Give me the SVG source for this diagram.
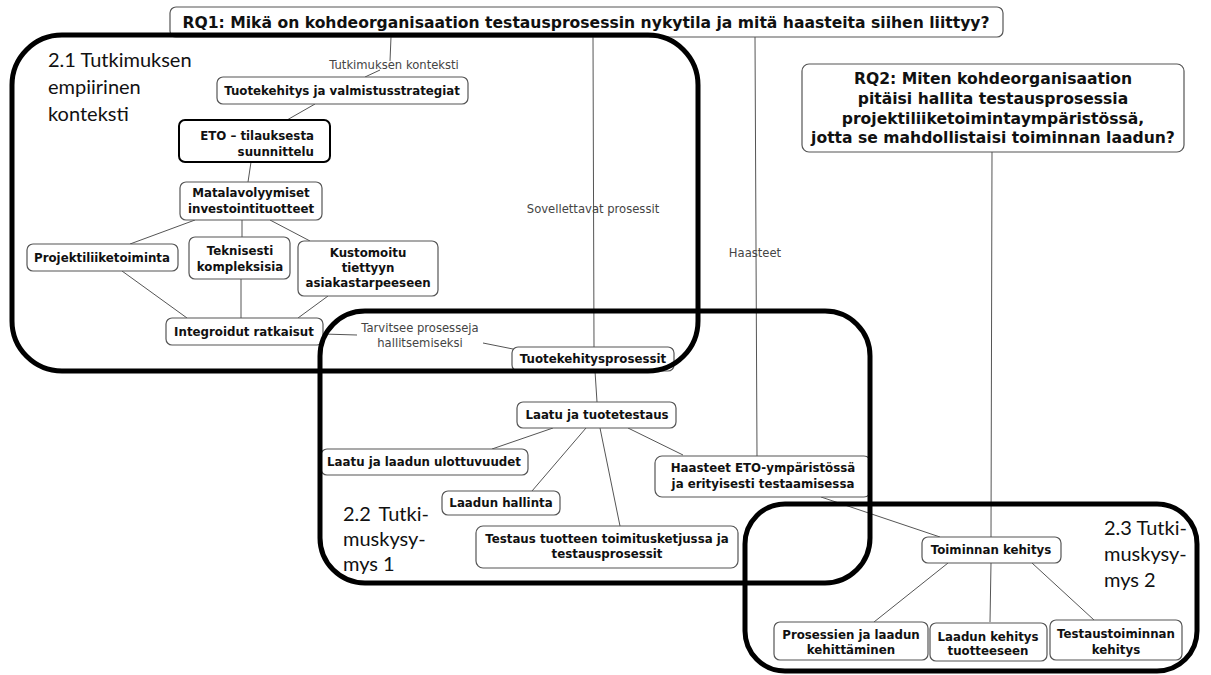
<svg xmlns="http://www.w3.org/2000/svg" width="1211" height="675" viewBox="0 0 1211 675">
  <style>
    .node rect { fill: #ffffff; stroke: #555555; stroke-width: 1.2; }
    .node.strong rect { stroke: #000000; stroke-width: 2; }
    .node text { font-family: "DejaVu Sans", Verdana, sans-serif; font-weight: bold; font-size: 11.8px; fill: #111111; text-anchor: middle; }
    .rq text { font-size: 15.6px; }
    .conn line { stroke: #555555; stroke-width: 1; fill: none; }
    .lbl { font-family: "DejaVu Sans", Verdana, sans-serif; font-size: 11.6px; fill: #444444; text-anchor: middle; }
    .region rect { fill: none; stroke: #000000; stroke-width: 5; }
    .region text { font-family: Lato, "Open Sans", sans-serif; font-size: 20px; fill: #111111; }
  </style>

  <rect x="0" y="0" width="1211" height="675" fill="#ffffff"/>

  <!-- connectors -->
  <g id="connectors" class="conn">
    <!-- RQ1 -> Tuotekehitys ja valmistusstrategiat (via "Tutkimuksen konteksti") -->
    <line x1="391" y1="37" x2="390" y2="61"/>
    <line x1="380" y1="70" x2="365" y2="77"/>
    <!-- RQ1 -> Tuotekehitysprosessit (via "Sovellettavat prosessit") -->
    <line x1="593" y1="37" x2="594" y2="347"/>
    <!-- RQ1 -> Haasteet ETO (via "Haasteet") -->
    <line x1="755" y1="37" x2="757" y2="457"/>
    <!-- RQ2 -> Toiminnan kehitys -->
    <line x1="992" y1="152" x2="991" y2="537"/>

    <line x1="315" y1="104" x2="287" y2="120"/>
    <line x1="251" y1="162" x2="248" y2="182"/>
    <line x1="195" y1="220" x2="130" y2="244"/>
    <line x1="242" y1="220" x2="242" y2="237"/>
    <line x1="270" y1="220" x2="310" y2="241"/>
    <line x1="122" y1="271" x2="187" y2="318"/>
    <line x1="241" y1="279" x2="241" y2="318"/>
    <line x1="328" y1="296" x2="298" y2="318"/>
    <!-- Integroidut ratkaisut -> Tuotekehitysprosessit (via "Tarvitsee prosesseja hallitsemiseksi") -->
    <line x1="323" y1="334" x2="357" y2="335"/>
    <line x1="483" y1="343" x2="513" y2="349"/>

    <line x1="595" y1="371" x2="597" y2="402"/>
    <line x1="553" y1="428" x2="492" y2="449"/>
    <line x1="586" y1="428" x2="532" y2="491"/>
    <line x1="600" y1="428" x2="620" y2="526"/>
    <line x1="628" y1="428" x2="683" y2="455"/>

    <line x1="821" y1="497" x2="940" y2="537"/>
    <line x1="948" y1="563" x2="874" y2="622"/>
    <line x1="991" y1="563" x2="990" y2="622"/>
    <line x1="1032" y1="563" x2="1094" y2="620"/>

    <text class="lbl" x="394" y="69">Tutkimuksen konteksti</text>
    <text class="lbl" x="593" y="213">Sovellettavat prosessit</text>
    <text class="lbl" x="755" y="257">Haasteet</text>
    <text class="lbl" x="420" y="332">Tarvitsee prosesseja</text>
    <text class="lbl" x="420" y="347">hallitsemiseksi</text>
  </g>

  <!-- research questions -->
  <g id="rq1" class="node rq">
    <rect x="170" y="7" width="833" height="30" rx="6"/>
    <text x="586" y="28">RQ1: Mikä on kohdeorganisaation testausprosessin nykytila ja mitä haasteita siihen liittyy?</text>
  </g>
  <g id="rq2" class="node rq">
    <rect x="802" y="64" width="382" height="88" rx="7"/>
    <text x="993" y="84">RQ2: Miten kohdeorganisaation<tspan x="993" dy="20">pitäisi hallita testausprosessia</tspan><tspan x="993" dy="20">projektiliiketoimintaympäristössä,</tspan><tspan x="993" dy="19">jotta se mahdollistaisi toiminnan laadun?</tspan></text>
  </g>

  <!-- 2.1 empirical context -->
  <g id="n-strategiat" class="node">
    <rect x="217" y="77" width="251" height="27" rx="6"/>
    <text x="342" y="95">Tuotekehitys ja valmistusstrategiat</text>
  </g>
  <g id="n-eto" class="node strong">
    <rect x="179" y="120" width="151" height="42" rx="6"/>
    <text x="314" y="140" style="text-anchor:end">ETO – tilauksesta<tspan x="314" dy="16">suunnittelu</tspan></text>
  </g>
  <g id="n-matala" class="node">
    <rect x="180" y="182" width="142" height="38" rx="6"/>
    <text x="251" y="197">Matalavolyymiset<tspan x="251" dy="16">investointituotteet</tspan></text>
  </g>
  <g id="n-projekti" class="node">
    <rect x="27" y="244" width="151" height="27" rx="6"/>
    <text x="102" y="262">Projektiliiketoiminta</text>
  </g>
  <g id="n-tekn" class="node">
    <rect x="189" y="237" width="101" height="42" rx="6"/>
    <text x="240" y="255">Teknisesti<tspan x="240" dy="16">kompleksisia</tspan></text>
  </g>
  <g id="n-kustom" class="node">
    <rect x="298" y="241" width="140" height="55" rx="6"/>
    <text x="368" y="257">Kustomoitu<tspan x="368" dy="15">tiettyyn</tspan><tspan x="368" dy="15">asiakastarpeeseen</tspan></text>
  </g>
  <g id="n-integr" class="node">
    <rect x="166" y="318" width="157" height="27" rx="6"/>
    <text x="244" y="336">Integroidut ratkaisut</text>
  </g>

  <!-- 2.2 research question 1 -->
  <g id="n-tkprosessit" class="node">
    <rect x="512" y="347" width="162" height="24" rx="6"/>
    <text x="593" y="363">Tuotekehitysprosessit</text>
  </g>
  <g id="n-laatu" class="node">
    <rect x="517" y="402" width="159" height="26" rx="6"/>
    <text x="597" y="419">Laatu ja tuotetestaus</text>
  </g>
  <g id="n-ulottuvuudet" class="node">
    <rect x="321" y="449" width="207" height="26" rx="6"/>
    <text x="424" y="466">Laatu ja laadun ulottuvuudet</text>
  </g>
  <g id="n-hallinta" class="node">
    <rect x="442" y="491" width="118" height="24" rx="6"/>
    <text x="501" y="507">Laadun hallinta</text>
  </g>
  <g id="n-testaus" class="node">
    <rect x="476" y="526" width="262" height="42" rx="7"/>
    <text x="607" y="543">Testaus tuotteen toimitusketjussa ja<tspan x="607" dy="15">testausprosessit</tspan></text>
  </g>
  <g id="n-haasteet" class="node">
    <rect x="655" y="456" width="216" height="41" rx="7"/>
    <text x="763" y="472">Haasteet ETO-ympäristössä<tspan x="763" dy="16">ja erityisesti testaamisessa</tspan></text>
  </g>

  <!-- 2.3 research question 2 -->
  <g id="n-toiminnan" class="node">
    <rect x="922" y="537" width="139" height="26" rx="6"/>
    <text x="991" y="554">Toiminnan kehitys</text>
  </g>
  <g id="n-prosessien" class="node">
    <rect x="774" y="622" width="154" height="38" rx="6"/>
    <text x="851" y="639">Prosessien ja laadun<tspan x="851" dy="15">kehittäminen</tspan></text>
  </g>
  <g id="n-laatukehitys" class="node">
    <rect x="930" y="623" width="117" height="38" rx="6"/>
    <text x="988" y="641">Laadun kehitys<tspan x="988" dy="14">tuotteeseen</tspan></text>
  </g>
  <g id="n-testaustoiminta" class="node">
    <rect x="1050" y="620" width="132" height="40" rx="6"/>
    <text x="1116" y="638">Testaustoiminnan<tspan x="1116" dy="16">kehitys</tspan></text>
  </g>

  <!-- thematic regions -->
  <g id="region-21" class="region">
    <rect x="12" y="35" width="686" height="336" rx="50"/>
    <text x="48" y="67">2.1 Tutkimuksen<tspan x="48" dy="27">empiirinen</tspan><tspan x="48" dy="27">konteksti</tspan></text>
  </g>
  <g id="region-22" class="region">
    <rect x="320" y="311" width="550" height="272" rx="45"/>
    <text x="343" y="521"><tspan word-spacing="3">2.2 Tutki-</tspan><tspan x="343" dy="25">muskysy-</tspan><tspan x="343" dy="25">mys 1</tspan></text>
  </g>
  <g id="region-23" class="region">
    <rect x="745" y="504" width="452" height="167" rx="40"/>
    <text x="1104" y="535">2.3 Tutki-<tspan x="1104" dy="26">muskysy-</tspan><tspan x="1104" dy="26">mys 2</tspan></text>
  </g>
</svg>
